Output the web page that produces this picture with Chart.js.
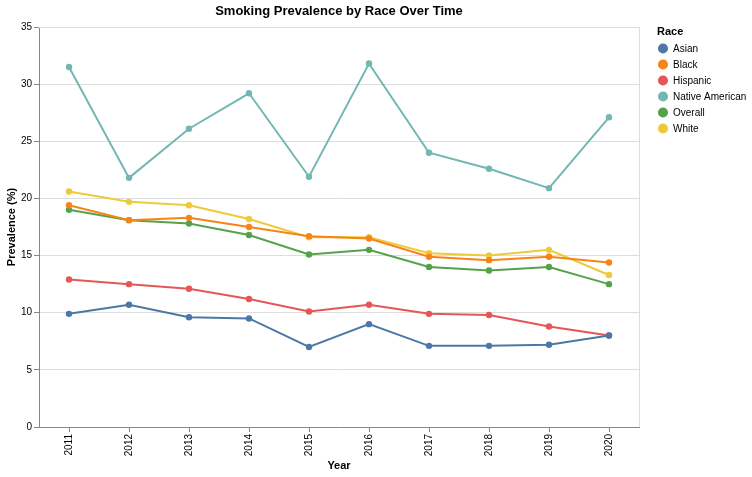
<!DOCTYPE html>
<html>
<head>
<meta charset="utf-8">
<script src="https://cdn.jsdelivr.net/npm/chart.js@4/dist/chart.umd.min.js"></script>
<style>
html,body{margin:0;padding:0;background:#fff;}
#wrap{width:752px;height:477px;position:relative;}
</style>
</head>
<body>
<div id="wrap"><canvas id="c" width="752" height="477"></canvas></div>
<script>
const years = ['2011','2012','2013','2014','2015','2016','2017','2018','2019','2020'];
const asian = [9.9, 10.7, 9.6, 9.5, 7.0, 9.0, 7.1, 7.1, 7.2, 8.0];
const black = [19.4, 18.1, 18.3, 17.5, 16.7, 16.5, 14.9, 14.6, 14.9, 14.4];
const hispanic = [12.9, 12.5, 12.1, 11.2, 10.1, 10.7, 9.9, 9.8, 8.8, 8.0];
const nativeAmerican = [31.5, 21.8, 26.1, 29.2, 21.9, 31.8, 24.0, 22.6, 20.9, 27.1];
const overall = [19.0, 18.1, 17.8, 16.8, 15.1, 15.5, 14.0, 13.7, 14.0, 12.5];
const white = [20.6, 19.7, 19.4, 18.2, 16.6, 16.6, 15.2, 15.0, 15.5, 13.3];
const seriesNames = ['Asian','Black','Hispanic','Native American','Overall','White'];
const seriesColors = ['#4c78a8','#f58518','#e45756','#72b7b2','#54a24b','#eeca3b'];
const seriesData = [asian, black, hispanic, nativeAmerican, overall, white];
const yTicks = [0,5,10,15,20,25,30,35];

const FONT = "'Liberation Sans', Arial, sans-serif";

const datasets = seriesNames.map((n,i)=>({
  label:n, data:seriesData[i], borderColor:seriesColors[i], backgroundColor:seriesColors[i],
  borderWidth:2, pointRadius:3.2, pointHoverRadius:3.2, pointBorderWidth:0, tension:0, fill:false
}));

const extras = {
  id:'extras',
  beforeDatasetsDraw(chart){
    const {ctx, chartArea:a} = chart;
    ctx.save();
    ctx.strokeStyle='#ddd'; ctx.lineWidth=1;
    ctx.beginPath();
    ctx.moveTo(a.left, a.top+0.5); ctx.lineTo(a.right+0.5, a.top+0.5);
    ctx.moveTo(a.right+0.5, a.top); ctx.lineTo(a.right+0.5, a.bottom);
    ctx.stroke();
    ctx.restore();
  },
  afterDraw(chart){
    const {ctx, chartArea:a} = chart;
    ctx.save();
    ctx.fillStyle='#000';
    ctx.textAlign='center'; ctx.textBaseline='middle';
    ctx.font='bold 13px '+FONT;
    ctx.fillText('Smoking Prevalence by Race Over Time', (a.left+a.right)/2, 11);
    ctx.font='bold 11px '+FONT;
    ctx.fillText('Year', (a.left+a.right)/2, 466);
    ctx.save();
    ctx.translate(12, (a.top+a.bottom)/2);
    ctx.rotate(-Math.PI/2);
    ctx.fillText('Prevalence (%)', 0, 0);
    ctx.restore();
    // legend
    ctx.textAlign='left';
    ctx.font='bold 11px '+FONT;
    ctx.fillText('Race', 657, 32);
    ctx.font='10px '+FONT;
    seriesNames.forEach((n,i)=>{
      const y = 48.5 + i*16;
      ctx.fillStyle=seriesColors[i];
      ctx.beginPath(); ctx.arc(663, y, 5, 0, Math.PI*2); ctx.fill();
      ctx.fillStyle='#000';
      ctx.fillText(n, 673, y+0.5);
    });
    ctx.restore();
  }
};

new Chart(document.getElementById('c'), {
  type:'line',
  data:{labels:years, datasets},
  options:{
    responsive:false, animation:false, devicePixelRatio:1,
    layout:{padding:{top:27, right:113, bottom:0, left:0}},
    plugins:{legend:{display:false}, title:{display:false}, tooltip:{enabled:false}},
    scales:{
      x:{
        type:'category', offset:true,
        grid:{display:true, drawOnChartArea:false, drawTicks:true, tickLength:5, tickColor:'#888', offset:false},
        border:{color:'#888', width:1},
        ticks:{color:'#000', font:{family:FONT, size:10}, minRotation:90, maxRotation:90, padding:2},
        afterFit(s){ s.height = 50; }
      },
      y:{
        min:0, max:35,
        afterBuildTicks(s){ s.ticks = yTicks.map(v=>({value:v})); },
        grid:{color:'#ddd', tickColor:'#888', tickLength:5, drawTicks:true},
        border:{color:'#888', width:1},
        ticks:{color:'#000', font:{family:FONT, size:10}, padding:2},
        afterFit(s){ s.width = 39; }
      }
    }
  },
  plugins:[extras]
});
</script>
</body>
</html>
